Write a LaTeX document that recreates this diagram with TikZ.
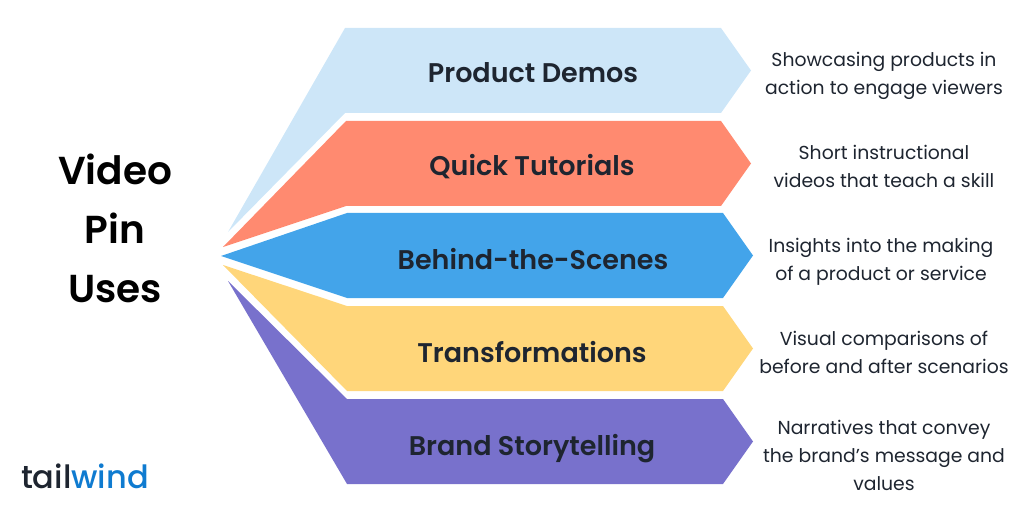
\documentclass[tikz,border=0pt]{standalone}
\usepackage{fontspec}
\setmainfont{Poppins}
\newfontfamily\headfont{Poppins SemiBold}
\newfontfamily\logofont{Poppins Medium}
\definecolor{paleblue}{HTML}{CDE6F8}
\definecolor{salmon}{HTML}{FF8A70}
\definecolor{midblue}{HTML}{43A4EA}
\definecolor{sand}{HTML}{FFD67A}
\definecolor{violet}{HTML}{7871CC}
\definecolor{inkdark}{HTML}{1E2530}
\definecolor{windblue}{HTML}{0F7BD0}
\def\pinband[#1](#2,#3)(#4,#5)(#6)(#7){\fill[#1] (#2, #3) -- (#4, #5) -- (#6, #5) -- (#6 + 30, #5 + 42.5) -- (#6, #5 + 85) -- (#4, #5 + 85) -- cycle;}
\tikzset{
	bandtext/.style={font=\headfont\fontsize{27}{30}\selectfont, color=inkdark},
	sidetext/.style={font=\fontsize{18.8}{28}\selectfont, color=inkdark, align=center},
}

\begin{document}
\begin{tikzpicture}[x=1pt, y=-1pt]
		%%%%% START %%%%%
		\useasboundingbox (0, 0) rectangle (1025, 513);
		
		\pinband[paleblue](228, 232)(345, 28)(721)(113);
		\pinband[salmon](223, 247)(346, 121)(721)(206);
		\pinband[midblue](221, 256)(347, 213)(723)(298);
		\pinband[sand](223, 265)(347, 306)(723)(391);
		\pinband[violet](228, 281)(347, 399)(723)(484);
		
		\node[font=\headfont\fontsize{39}{59}\selectfont, align=center] (title) at (115, 228) {Video\\Pin\\Uses};
		
		\node[bandtext] (demos) at (533, 73) {Product Demos};
		\node[bandtext] (tutorials) at (532, 167) {Quick Tutorials};
		\node[bandtext] (scenes) at (533, 259) {Behind-the-Scenes};
		\node[bandtext] (changes) at (532, 352) {Transformations};
		\node[bandtext] (stories) at (532, 449) {Brand Storytelling};
		
		\node[sidetext] (demosnote) at (884, 76) {Showcasing products in\\action to engage viewers};
		\node[sidetext] (tutorialsnote) at (884, 166) {Short instructional\\videos that teach a skill};
		\node[sidetext] (scenesnote) at (881, 262) {Insights into the making\\of a product or service};
		\node[sidetext] (changesnote) at (884, 352) {Visual comparisons of\\before and after scenarios};
		\node[sidetext] (storiesnote) at (884, 455) {Narratives that convey\\the brand’s message and\\values};
		
		\node[font=\logofont\fontsize{32}{32}\selectfont, color=inkdark] (logo) at (85, 476) {tail\textcolor{windblue}{wind}};
		
		%%%%% END %%%%%
	\end{tikzpicture}
\end{document}
